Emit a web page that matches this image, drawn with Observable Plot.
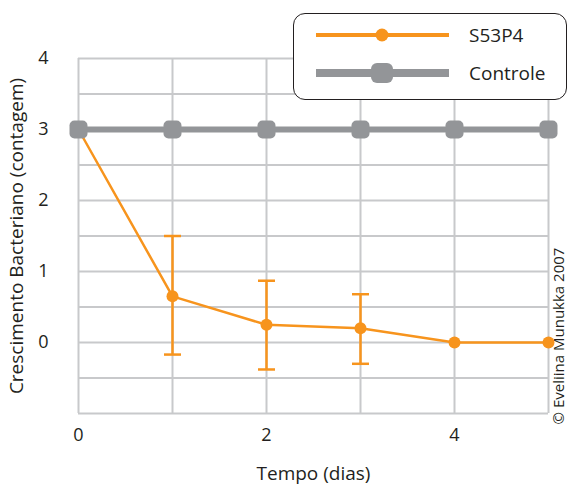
<!DOCTYPE html>
<html><head><meta charset="utf-8">
<script src="https://cdn.jsdelivr.net/npm/d3@7"></script>
<script src="https://cdn.jsdelivr.net/npm/@observablehq/plot@0.6"></script>
<style>
body{margin:0;background:#fff;font-family:"Open Sans",sans-serif;}
#wrap{position:relative;width:567px;height:485px;overflow:hidden;background:#fff;}
#legend{position:absolute;left:293px;top:13px;width:274px;height:87px;border:1.6px solid #231f20;border-radius:12px;background:#fff;box-sizing:border-box;}
#legend svg{position:absolute;left:-1.6px;top:-1.6px;}
#copy{position:absolute;left:558px;top:336px;transform:translate(-50%,-50%) rotate(-90deg);white-space:nowrap;font-size:15px;line-height:15px;color:#231f20;}
</style></head><body><div id="wrap"></div>
<script>
// ---- data ----
const days = [0, 1, 2, 3, 4, 5];
const s53p4 = [3, 0.65, 0.25, 0.2, 0, 0];
const s53p4Upper = [null, 1.5, 0.87, 0.68, null, null];
const s53p4Lower = [null, -0.17, -0.38, -0.3, null, null];
const controle = [3, 3, 3, 3, 3, 3];
const xTickLabels = [0, 2, 4];
const yTickLabels = [0, 1, 2, 3, 4];
const xGridValues = [0, 1, 2, 3, 4, 5];
const yGridValues = [-1, -0.5, 0, 0.5, 1, 1.5, 2, 2.5, 3, 3.5, 4];
const seriesNames = ["S53P4", "Controle"];

const orange = "#f7941d", gray = "#939598", gridCol = "#c8c9cb", ink = "#231f20";

const data = days.map((d, i) => ({day: d, s: s53p4[i], hi: s53p4Upper[i], lo: s53p4Lower[i], c: controle[i]}));
const err = data.filter(d => d.hi != null);

const capSymbol = {draw(ctx) { const w = 8.5; ctx.moveTo(-w, 0); ctx.lineTo(w, 0); }};
const roundSquare = {draw(ctx) {
  const s = 9, r = 5;
  ctx.moveTo(-s + r, -s); ctx.lineTo(s - r, -s); ctx.arcTo(s, -s, s, -s + r, r);
  ctx.lineTo(s, s - r); ctx.arcTo(s, s, s - r, s, r);
  ctx.lineTo(-s + r, s); ctx.arcTo(-s, s, -s, s - r, r);
  ctx.lineTo(-s, -s + r); ctx.arcTo(-s, -s, -s + r, -s, r); ctx.closePath();
}};

const chart = Plot.plot({
  width: 567, height: 485,
  marginLeft: 78, marginRight: 19, marginTop: 58, marginBottom: 72,
  x: {domain: [0, 5]},
  y: {domain: [-1, 4]},
  style: {fontFamily: "Open Sans, sans-serif", fontSize: "18px", color: ink, background: "transparent", overflow: "visible"},
  marks: [
    Plot.gridX(xGridValues, {stroke: gridCol, strokeOpacity: 1, strokeWidth: 2}),
    Plot.gridY(yGridValues, {stroke: gridCol, strokeOpacity: 1, strokeWidth: 2}),
    Plot.axisX(xTickLabels, {tickSize: 0, tickPadding: 15, fontSize: 18, tickFormat: d => String(d), label: "Tempo (dias)", labelAnchor: "center", labelArrow: "none", labelOffset: 66}),
    Plot.axisY(yTickLabels, {tickSize: 0, tickPadding: 30, fontSize: 18, tickFormat: d => String(d), label: "Crescimento Bacteriano (contagem)", labelAnchor: "center", labelArrow: "none", labelOffset: 69}),
    Plot.ruleX(err, {x: "day", y1: "lo", y2: "hi", stroke: orange, strokeWidth: 2.5}),
    Plot.dot(err, {x: "day", y: "hi", symbol: capSymbol, r: 8, stroke: orange, strokeWidth: 2.5, fill: "none"}),
    Plot.dot(err, {x: "day", y: "lo", symbol: capSymbol, r: 8, stroke: orange, strokeWidth: 2.5, fill: "none"}),
    Plot.line(data, {x: "day", y: "s", stroke: orange, strokeWidth: 2.5}),
    Plot.dot(data, {x: "day", y: "s", fill: orange, r: 6}),
    Plot.line(data, {x: "day", y: "c", stroke: gray, strokeWidth: 6}),
    Plot.dot(data, {x: "day", y: "c", symbol: roundSquare, r: 9, fill: gray})
  ]
});
chart.querySelectorAll("text").forEach(t => {
  if (t.textContent === "Tempo (dias)" || t.textContent === "Crescimento Bacteriano (contagem)") t.setAttribute("font-size", "19");
});
const wrap = document.getElementById("wrap");
wrap.appendChild(chart);

// legend
const legend = document.createElement("div");
legend.id = "legend";
legend.innerHTML = `<svg width="274" height="87" xmlns="http://www.w3.org/2000/svg" font-family="Open Sans, sans-serif">
  <line x1="24" x2="157" y1="23" y2="23" stroke="${orange}" stroke-width="4"/>
  <circle cx="90" cy="23" r="6.5" fill="${orange}"/>
  <text x="177" y="23" dy="0.35em" font-size="19" fill="${ink}">${seriesNames[0]}</text>
  <line x1="24" x2="157" y1="61" y2="61" stroke="${gray}" stroke-width="8"/>
  <rect x="79" y="51" width="22" height="20" rx="6" fill="${gray}"/>
  <text x="177" y="61" dy="0.35em" font-size="19" fill="${ink}">${seriesNames[1]}</text>
</svg>`;
wrap.appendChild(legend);

const copy = document.createElement("div");
copy.id = "copy";
copy.textContent = "© Eveliina Munukka 2007";
wrap.appendChild(copy);
</script></body></html>
